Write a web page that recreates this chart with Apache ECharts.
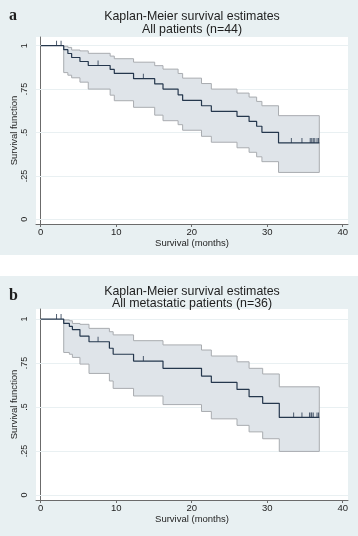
<!DOCTYPE html>
<html><head><meta charset="utf-8">
<script src="https://cdn.jsdelivr.net/npm/echarts@6/dist/echarts.min.js"></script>
<style>
html,body{margin:0;padding:0;background:#fff;width:358px;height:536px;overflow:hidden}
.bg{position:absolute;left:0;width:358px;background:#e8f0f2}
#chart{position:absolute;left:0;top:0;width:358px;height:536px}
</style></head><body>
<div class="bg" style="top:0;height:255px"></div>
<div class="bg" style="top:276px;height:260px"></div>
<div id="chart"></div>
<script>
// ---- shared axis ticks ----
const xTicks = [0, 10, 20, 30, 40];
const yTicks = [0, 0.25, 0.5, 0.75, 1];
const yTickLabels = ['0', '.25', '.5', '.75', '1'];
const xTitle = 'Survival (months)';
const yTitle = 'Survival function';
const mainTitle = 'Kaplan-Meier survival estimates';

// ---- panel a: all patients ----
const aLabel = 'a';
const aSubtitle = 'All patients (n=44)';
const aTimes = [0, 3.05, 3.6, 4.1, 5.2, 6.3, 9.2, 9.75, 12.3, 15.1, 16.2, 18.2, 18.8, 21.3, 22.6, 26.0, 27.6, 28.6, 29.3, 31.5];
const aSurv  = [1, 0.977, 0.955, 0.932, 0.909, 0.886, 0.863, 0.840, 0.810, 0.780, 0.750, 0.717, 0.685, 0.654, 0.622, 0.593, 0.564, 0.536, 0.501, 0.440];
const aLower = [null, 0.845, 0.830, 0.815, 0.790, 0.750, 0.715, 0.683, 0.645, 0.600, 0.568, 0.545, 0.513, 0.478, 0.444, 0.412, 0.386, 0.360, 0.332, 0.270];
const aUpper = [null, 0.997, 0.990, 0.975, 0.970, 0.956, 0.940, 0.925, 0.905, 0.885, 0.865, 0.840, 0.813, 0.782, 0.750, 0.727, 0.704, 0.679, 0.654, 0.597];
const aEnd = 36.9;
const aCensor = [2.1, 2.7, 7.6, 13.6, 33.2, 34.6, 35.7, 35.9, 36.1, 36.3, 36.6, 36.8];

// ---- panel b: metastatic patients ----
const bLabel = 'b';
const bSubtitle = 'All metastatic patients (n=36)';
const bTimes = [0, 3.05, 3.8, 4.2, 5.2, 6.4, 9.1, 9.6, 12.3, 16.2, 21.3, 22.6, 26.0, 27.6, 29.4, 31.6];
const bSurv  = [1, 0.975, 0.958, 0.940, 0.903, 0.871, 0.834, 0.800, 0.761, 0.720, 0.676, 0.640, 0.600, 0.559, 0.521, 0.441];
const bLower = [null, 0.810, 0.800, 0.782, 0.744, 0.691, 0.648, 0.606, 0.563, 0.514, 0.475, 0.433, 0.396, 0.359, 0.320, 0.248];
const bUpper = [null, 0.995, 0.990, 0.975, 0.970, 0.947, 0.928, 0.910, 0.877, 0.853, 0.824, 0.790, 0.757, 0.720, 0.688, 0.615];
const bEnd = 36.9;
const bCensor = [2.1, 2.7, 7.6, 13.6, 33.5, 34.6, 35.6, 35.8, 35.9, 36.1, 36.6, 36.8];

// ---- styling ----
const FONT = 'Liberation Sans, Arial, sans-serif';
const TXT = '#1e1e1e';
const AXC = '#6b6b6b';
const LINE = '#25374d';
const BAND_FILL = '#dfe4e9';
const BAND_EDGE = '#a9acb0';
const GRIDC = '#e9f0f2';

function stepSeries(times, vals, end) {
  const d = times.map((t, i) => [t, vals[i]]);
  d.push([end, vals[vals.length - 1]]);
  return d;
}
function survAt(times, surv, t) {
  let s = surv[0];
  for (let i = 0; i < times.length; i++) if (times[i] <= t) s = surv[i];
  return s;
}
function bandSeries(idx, times, lower, upper, end) {
  const items = [];
  for (let i = 1; i < times.length; i++) items.push([times[i], lower[i], upper[i]]);
  return {
    type: 'custom', xAxisIndex: idx, yAxisIndex: idx, z: 2, silent: true,
    data: items,
    encode: { x: 0, y: [1, 2] },
    renderItem: function (params, api) {
      if (params.dataIndex !== 0) return null;
      const pts = [];
      for (let i = 0; i < items.length; i++) {
        const t0 = items[i][0], t1 = i + 1 < items.length ? items[i + 1][0] : end;
        pts.push(api.coord([t0, items[i][2]]));
        pts.push(api.coord([t1, items[i][2]]));
      }
      for (let i = items.length - 1; i >= 0; i--) {
        const t0 = items[i][0], t1 = i + 1 < items.length ? items[i + 1][0] : end;
        pts.push(api.coord([t1, items[i][1]]));
        pts.push(api.coord([t0, items[i][1]]));
      }
      return { type: 'polygon', shape: { points: pts }, style: { fill: BAND_FILL, stroke: BAND_EDGE, lineWidth: 1 } };
    }
  };
}
function mainSeries(idx, times, surv, end) {
  return {
    type: 'line', xAxisIndex: idx, yAxisIndex: idx, step: 'end', z: 4, silent: true,
    showSymbol: false, symbol: 'none',
    lineStyle: { color: LINE, width: 1.2 },
    data: stepSeries(times, surv, end),
    markLine: {
      silent: true, symbol: 'none', z: 1, animation: false,
      label: { show: false },
      lineStyle: { color: GRIDC, type: 'solid', width: 1 },
      data: yTicks.map(v => ({ yAxis: v }))
    }
  };
}
function censorSeries(idx, times, surv, cens) {
  return {
    type: 'scatter', xAxisIndex: idx, yAxisIndex: idx, z: 5, silent: true,
    symbol: 'rect', symbolSize: [1, 5], symbolOffset: [0, -2.5],
    itemStyle: { color: LINE },
    data: cens.map(t => [t, survAt(times, surv, t)])
  };
}
function xAx(idx) {
  return {
    gridIndex: idx, type: 'value', min: -0.62, max: 40.7,
    axisLine: { show: true, onZero: false, lineStyle: { color: AXC, width: 1 } },
    axisTick: { show: true, length: 3, customValues: xTicks, lineStyle: { color: AXC } },
    axisLabel: { customValues: xTicks, fontSize: 9.5, color: TXT, margin: 3, fontFamily: FONT },
    splitLine: { show: false },
    name: xTitle, nameLocation: 'middle', nameGap: 14, nameMoveOverlap: false,
    nameTextStyle: { fontSize: 9.5, color: TXT, fontFamily: FONT }
  };
}
function yAx(idx, min, max) {
  return {
    gridIndex: idx, type: 'value', min: min, max: max,
    axisLine: { show: true, lineStyle: { color: AXC, width: 1 } },
    axisTick: { show: true, length: 3, customValues: yTicks, lineStyle: { color: AXC } },
    axisLabel: { customValues: yTicks, rotate: 90, fontSize: 9, color: TXT, margin: 7, fontFamily: FONT,
      formatter: v => { const k = yTicks.findIndex(y => Math.abs(y - v) < 1e-9); return k >= 0 ? yTickLabels[k] : ''; } },
    splitLine: { show: false },
    name: yTitle, nameLocation: 'middle', nameGap: 17, nameMoveOverlap: false,
    nameTextStyle: { fontSize: 9.5, color: TXT, fontFamily: FONT }
  };
}
function txt(text, x, y, size, bold, family, align) {
  return { type: 'text', x: x, y: y, z: 10, silent: true,
    style: { text: text, fill: TXT, font: (bold ? 'bold ' : '') + size + 'px ' + family,
      textAlign: align || 'center', textVerticalAlign: 'middle' } };
}

const chart = echarts.init(document.getElementById('chart'), null, { renderer: 'canvas' });
chart.setOption({
  animation: false,
  backgroundColor: 'transparent',
  grid: [
    { left: 36, top: 37, width: 312, height: 187, show: true, backgroundColor: '#fff', borderWidth: 0, containLabel: false, outerBoundsMode: 'none' },
    { left: 36, top: 309, width: 312, height: 191, show: true, backgroundColor: '#fff', borderWidth: 0, containLabel: false, outerBoundsMode: 'none' }
  ],
  xAxis: [xAx(0), xAx(1)],
  yAxis: [yAx(0, -0.027, 1.05), yAx(1, -0.028, 1.057)],
  graphic: [
    txt(mainTitle, 192, 17, 12.4, false, FONT),
    txt(aSubtitle, 192, 29.5, 12.4, false, FONT),
    txt(aLabel, 9, 16, 16, true, 'Liberation Serif, serif', 'left'),
    txt(mainTitle, 192, 292, 12.4, false, FONT),
    txt(bSubtitle, 192, 303.7, 12.4, false, FONT),
    txt(bLabel, 9, 296, 16, true, 'Liberation Serif, serif', 'left')
  ],
  series: [
    bandSeries(0, aTimes, aLower, aUpper, aEnd),
    mainSeries(0, aTimes, aSurv, aEnd),
    censorSeries(0, aTimes, aSurv, aCensor),
    bandSeries(1, bTimes, bLower, bUpper, bEnd),
    mainSeries(1, bTimes, bSurv, bEnd),
    censorSeries(1, bTimes, bSurv, bCensor)
  ]
});
</script>
</body></html>
